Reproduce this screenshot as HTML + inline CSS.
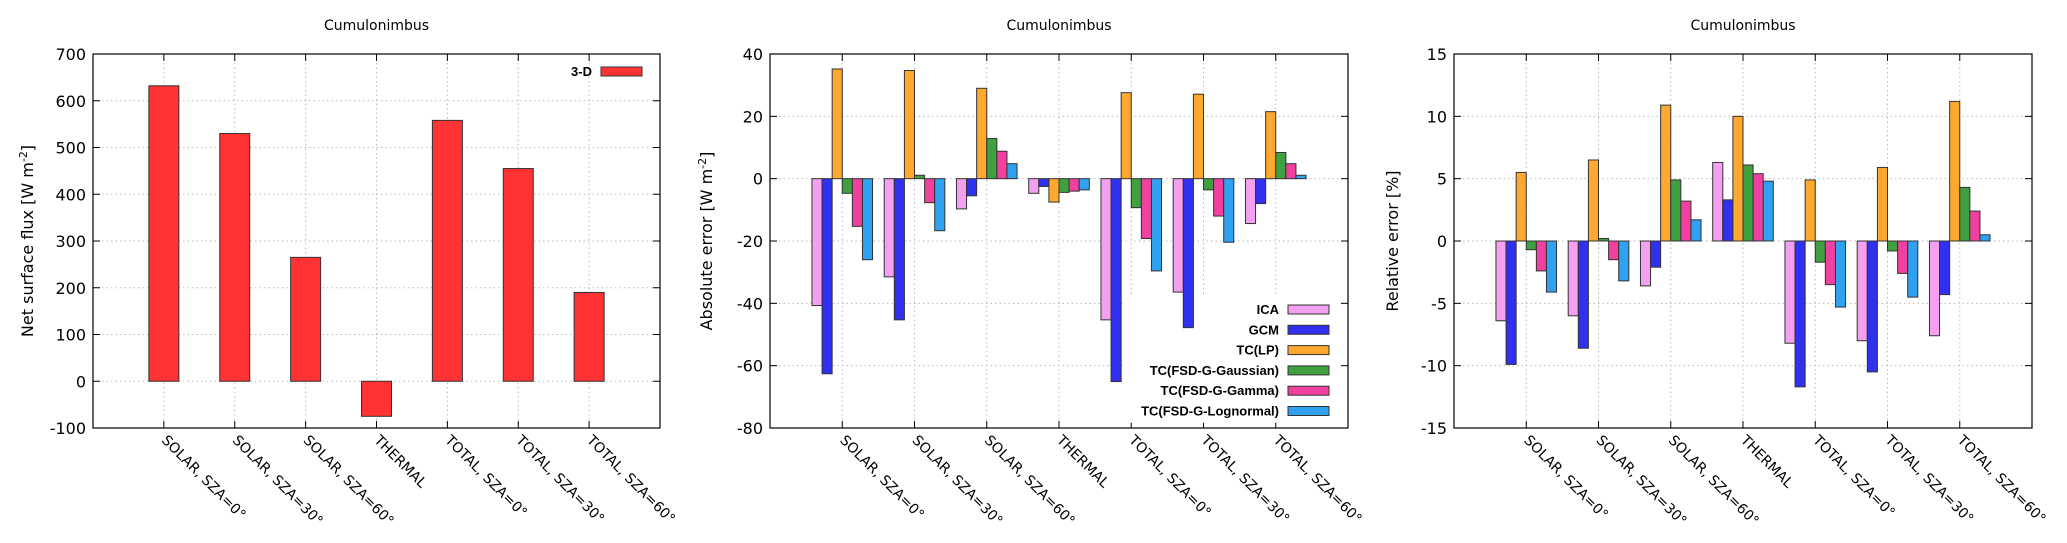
<!DOCTYPE html>
<html><head><meta charset="utf-8">
<style>
html,body{margin:0;padding:0;background:#fff;}
svg{display:block;font-family:"DejaVu Sans","Liberation Sans",sans-serif;}
</style></head>
<body>
<svg id="chart" width="2067" height="543" viewBox="0 0 2067 543" xmlns="http://www.w3.org/2000/svg"></svg>
<script>
const categories = ["SOLAR, SZA=0°","SOLAR, SZA=30°","SOLAR, SZA=60°","THERMAL","TOTAL, SZA=0°","TOTAL, SZA=30°","TOTAL, SZA=60°"];
const seriesNames = ["ICA","GCM","TC(LP)","TC(FSD-G-Gaussian)","TC(FSD-G-Gamma)","TC(FSD-G-Lognormal)"];
const seriesColors = ["#f4a0f0","#3030f0","#ffa830","#40a040","#f040a0","#30a0f0"];
const flux3D = [632, 530, 265, -75, 558, 455, 190];
const absICA   = [-40.7, -31.5, -9.7, -4.7, -45.3, -36.4, -14.4];
const absGCM   = [-62.6, -45.3, -5.5, -2.5, -65.1, -47.8, -8.0];
const absLP    = [35.2, 34.7, 29.0, -7.5, 27.6, 27.1, 21.5];
const absGauss = [-4.7, 1.1, 12.9, -4.4, -9.3, -3.6, 8.4];
const absGamma = [-15.3, -7.7, 8.8, -4.0, -19.2, -12.0, 4.8];
const absLogn  = [-26.0, -16.7, 4.8, -3.6, -29.6, -20.4, 1.1];
const relICA   = [-6.4, -6.0, -3.6, 6.3, -8.2, -8.0, -7.6];
const relGCM   = [-9.9, -8.6, -2.1, 3.3, -11.7, -10.5, -4.3];
const relLP    = [5.5, 6.5, 10.9, 10.0, 4.9, 5.9, 11.2];
const relGauss = [-0.7, 0.2, 4.9, 6.1, -1.7, -0.8, 4.3];
const relGamma = [-2.4, -1.5, 3.2, 5.4, -3.5, -2.6, 2.4];
const relLogn  = [-4.1, -3.2, 1.7, 4.8, -5.3, -4.5, 0.5];
const ticksLeft = [-100,0,100,200,300,400,500,600,700];
const ticksMid = [-80,-60,-40,-20,0,20,40];
const ticksRight = [-15,-10,-5,0,5,10,15];

const NS="http://www.w3.org/2000/svg";
const svg=document.getElementById('chart');
function mk(tag,attrs,parent){const e=document.createElementNS(NS,tag);for(const k in attrs)e.setAttribute(k,attrs[k]);(parent||svg).appendChild(e);return e;}

function panel(p){
  const g=mk('g',{});
  
  
  const L=p.left,R=p.right,T=54,B=428;
  const ymin=p.ticks[0],ymax=p.ticks[p.ticks.length-1];
  const ys=v=>B-(v-ymin)/(ymax-ymin)*(B-T);
  const step=(R-L)/8;
  const xs=i=>L+(i+1)*step;
  const t=mk('text',{x:(L+R)/2,y:30,'text-anchor':'middle','font-size':14,fill:'#000'},g);
  t.textContent='Cumulonimbus';
  
  
  p.ticks.forEach(v=>{
    const y=ys(v);
    if(v!==ymin&&v!==ymax){
      const gl=mk('line',{x1:L,x2:R,y1:y,y2:y,stroke:'#bbb','stroke-width':1,'stroke-dasharray':'1.5,3'},g);
      
      
    }
    mk('line',{x1:L,x2:L+7,y1:y,y2:y,stroke:'#000','stroke-width':1},g);
    mk('line',{x1:R,x2:R-7,y1:y,y2:y,stroke:'#000','stroke-width':1},g);
    const tl=mk('text',{x:L-7,y:y+6,'text-anchor':'end','font-size':16,fill:'#000'},g);
    tl.textContent=v;
    
    
  });
  categories.forEach((c,i)=>{
    const x=xs(i);
    const gl=mk('line',{x1:x,x2:x,y1:T,y2:B,stroke:'#bbb','stroke-width':1,'stroke-dasharray':'1.5,3'},g);
    
    
    mk('line',{x1:x,x2:x,y1:B,y2:B-7,stroke:'#000'},g);
    mk('line',{x1:x,x2:x,y1:T,y2:T+7,stroke:'#000'},g);
    const tl=mk('text',{x:x-3,y:B+13,'font-size':14,fill:'#000',transform:`rotate(45 ${x-3} ${B+13})`},g);
    tl.textContent=c;
    
    
  });
  // legend (drawn before bars so bars pass over its background)
  if(p.legend){
    const lg=mk('g',{},g);
    
    
    if(p.legendBg) mk('rect',{x:p.legend.x-155,y:p.legend.y-12,width:215,height:p.legend.names.length*20.3+4,fill:'#fff'},lg);
    p.legend.names.forEach((n,k)=>{
      const y=p.legend.y+k*20.3;
      const e=mk('g',{},lg);
      
      
      const tx=mk('text',{x:p.legend.x,y:y+5,'text-anchor':'end','font-size':13,'font-weight':'bold',fill:'#000','font-family':'Liberation Sans, sans-serif'},e);
      tx.textContent=n;
      mk('rect',{x:p.legend.x+9,y:y-4,width:41,height:9,fill:p.colors[k],stroke:'#333'},e);
    });
  }
  const nS=p.series.length;
  const bw=p.barW;
  const y0=ys(0);
  p.series.forEach((arr,s)=>{
    arr.forEach((v,i)=>{
      const cx=xs(i)+(s-(nS-1)/2)*bw;
      const y=ys(v);
      const r=mk('rect',{x:cx-bw/2,y:Math.min(y,y0),width:bw,height:Math.max(Math.abs(y-y0),0.5),fill:p.colors[s],stroke:'#333','stroke-width':1},g);
      
      
    });
  });
  const fr=mk('rect',{x:L,y:T,width:R-L,height:B-T,fill:'none',stroke:'#000','stroke-width':1.2},g);
  
  
  const yt=mk('text',{x:0,y:0,'text-anchor':'middle','font-size':16,fill:'#000',transform:`translate(${p.ytX} 241) rotate(-90)`},g);
  yt.innerHTML=p.ytitle;
  
  
}

panel({name:'net-flux-panel',left:93,right:660,ticks:ticksLeft,series:[flux3D],colors:['#ff3333'],keys:['3d'],barW:30,
  legend:{x:592,y:71,names:['3-D']},ytX:33,ytitle:'Net surface flux [W m<tspan dy="-6" font-size="11">-2</tspan><tspan dy="6">]</tspan>'});
panel({name:'absolute-error-panel',left:770,right:1348,ticks:ticksMid,series:[absICA,absGCM,absLP,absGauss,absGamma,absLogn],colors:seriesColors,keys:['ica','gcm','lp','gaussian','gamma','lognormal'],barW:10.1,
  legend:{x:1279,y:309,names:seriesNames},legendBg:true,ytX:712,ytitle:'Absolute error [W m<tspan dy="-6" font-size="11">-2</tspan><tspan dy="6">]</tspan>'});
panel({name:'relative-error-panel',left:1454,right:2032,ticks:ticksRight,series:[relICA,relGCM,relLP,relGauss,relGamma,relLogn],colors:seriesColors,keys:['ica','gcm','lp','gaussian','gamma','lognormal'],barW:10.1,
  ytX:1398,ytitle:'Relative error [%]'});
</script>
</body></html>
